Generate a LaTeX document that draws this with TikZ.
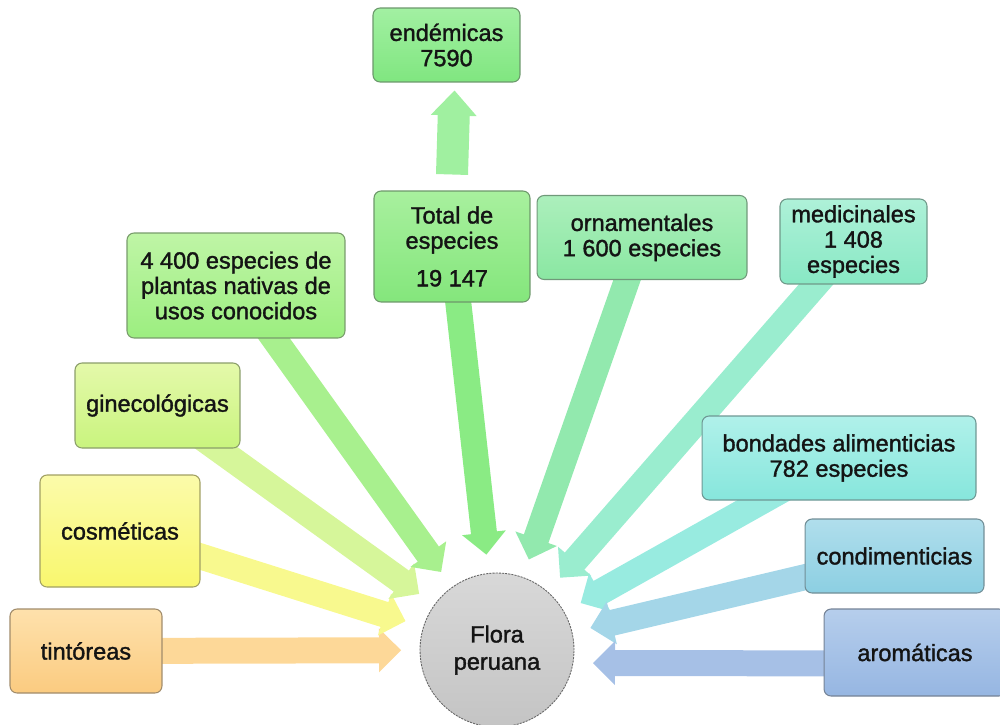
\documentclass[tikz,border=0pt]{standalone}
\usepackage{fontspec}
\setmainfont{Liberation Sans}
\newfontfamily\lblfont{Liberation Sans}[FakeBold=1.4]
\usetikzlibrary{calc,backgrounds}

\definecolor{tinT}{HTML}{FEE1AC} \definecolor{tinB}{HTML}{FBCB80}
\definecolor{cosT}{HTML}{FBFBAA} \definecolor{cosB}{HTML}{F9F76E}
\definecolor{ginT}{HTML}{E4F9AA} \definecolor{ginB}{HTML}{C9F47E}
\definecolor{usoT}{HTML}{BFF5A6} \definecolor{usoB}{HTML}{9CEE80}
\definecolor{totT}{HTML}{A8F09E} \definecolor{totB}{HTML}{84E67C}
\definecolor{endT}{HTML}{A2F0A2} \definecolor{endB}{HTML}{80E680}
\definecolor{ornT}{HTML}{ACEFBC} \definecolor{ornB}{HTML}{8AE7A2}
\definecolor{medT}{HTML}{AEF1D8} \definecolor{medB}{HTML}{88E8C4}
\definecolor{bonT}{HTML}{B0F1EA} \definecolor{bonB}{HTML}{86E6DC}
\definecolor{conT}{HTML}{B0DEEC} \definecolor{conB}{HTML}{8CCFE2}
\definecolor{aroT}{HTML}{B6CEEC} \definecolor{aroB}{HTML}{96B6E2}
\definecolor{floT}{HTML}{D8D8D8} \definecolor{floB}{HTML}{C4C4C4}

\definecolor{tinA}{HTML}{FDD898}
\definecolor{cosA}{HTML}{F8F98E}
\definecolor{ginA}{HTML}{D6F69A}
\definecolor{usoA}{HTML}{A8F08E}
\definecolor{totA}{HTML}{8AEB84}
\definecolor{endA}{HTML}{A0F0A0}
\definecolor{ornA}{HTML}{92E9AE}
\definecolor{medA}{HTML}{9AEDCF}
\definecolor{bonA}{HTML}{98EBE0}
\definecolor{conA}{HTML}{A4D6E8}
\definecolor{aroA}{HTML}{A6C0E6}

% #1 start, #2 tip, #3 colour, #4 half shaft, #5 half head, #6 head length
\newcommand{\blockarrow}[6]{%
  \coordinate (hb) at ($(#2)!#6!(#1)$);
  \fill[#3] ($(#1)!#4!90:(#2)$) -- ($(hb)!#4!90:(#2)$) -- ($(hb)!#5!90:(#2)$)
    -- (#2) -- ($(hb)!#5!-90:(#2)$) -- ($(hb)!#4!-90:(#2)$) -- ($(#1)!#4!-90:(#2)$) -- cycle;
}

\tikzset{
  box/.style={rectangle, rounded corners=4pt, align=center, line width=0.6pt,
    inner sep=0pt, font=\lblfont\fontsize{13.4}{14.4}\selectfont, text=black!92},
  boxc/.style={box, top color=#1T, bottom color=#1B, draw=#1B!55!black!80},
}

\begin{document}
\begin{tikzpicture}[x=0.02cm, y=-0.02cm]
\useasboundingbox (0,0) rectangle (1000,724);

\node[boxc=end, minimum width=2.94cm, minimum height=1.48cm] (end) at (446.5,45) {endémicas\\7590};
\node[boxc=tot, minimum width=3.12cm, minimum height=2.22cm] (tot) at (452,246.5) {Total de\\especies\\[7pt]19 147};
\node[boxc=orn, minimum width=4.20cm, minimum height=1.68cm] (orn) at (642,237.5) {ornamentales\\1 600 especies};
\node[boxc=med, minimum width=2.94cm, minimum height=1.70cm] (med) at (853.5,241.5) {medicinales\\1 408\\especies};
\node[boxc=uso, minimum width=4.36cm, minimum height=2.10cm] (uso) at (236,285.5) {4 400 especies de\\plantas nativas de\\usos conocidos};
\node[boxc=gin, minimum width=3.30cm, minimum height=1.70cm] (gin) at (157.5,405.5) {ginecológicas};
\node[boxc=cos, minimum width=3.20cm, minimum height=2.24cm] (cos) at (120,531) {cosméticas};
\node[boxc=tin, minimum width=3.04cm, minimum height=1.68cm] (tin) at (86,651) {tintóreas};
\node[boxc=bon, minimum width=5.48cm, minimum height=1.68cm] (bon) at (839,458) {bondades alimenticias\\782 especies};
\node[boxc=con, minimum width=3.58cm, minimum height=1.48cm] (con) at (894.5,556) {condimenticias};
\node[boxc=aro, minimum width=3.64cm, minimum height=1.74cm] (aro) at (915,652.5) {aromáticas};

\node[circle, minimum size=3.08cm, inner sep=0pt, top color=floT, bottom color=floB,
  draw=black!60, dash pattern=on 1.2pt off 0.6pt, line width=0.5pt, align=center,
  font=\lblfont\fontsize{13.4}{15.5}\selectfont, text=black!92] (flora) at (497,650) {Flora\\peruana};

% arrow end points
\coordinate (ends) at ($(tot.north)+(0,-16)$);
\coordinate (endt) at ($(end.south)+(8,8)$);
\coordinate (aros) at ($(aro.center)+(0,11)$);
\coordinate (arot) at ($(flora.center)+(96,13)$);
\foreach \n in {tin,cos,gin,uso,tot,orn,med,bon,con}{
  \coordinate (\n t) at ($(flora.center)!1.92cm!(\n.center)$);
}

\begin{scope}[on background layer]
  \blockarrow{ends}{endt}{endA}{0.32cm}{0.46cm}{0.5cm}
  \foreach \n in {tin,cos,gin,uso,tot,orn,med,bon,con}{
    \blockarrow{\n.center}{\n t}{\n A}{0.26cm}{0.44cm}{0.44cm}
  }
  \blockarrow{aros}{arot}{aroA}{0.26cm}{0.44cm}{0.44cm}
\end{scope}
\end{tikzpicture}
\end{document}
